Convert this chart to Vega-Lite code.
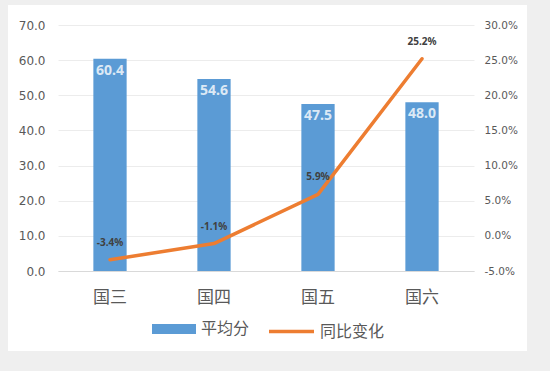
{
  "$schema": "https://vega.github.io/schema/vega-lite/v6.json",
  "autosize": "none",
  "width": 519,
  "height": 346,
  "padding": {"left": 8, "top": 5, "right": 23, "bottom": 20},
  "background": "#efefef",
  "config": {
    "view": {"fill": "#ffffff", "stroke": null},
    "font": "Noto Sans CJK SC",
    "locale": {
      "number": {"decimal": ".", "thousands": ",", "grouping": [3], "currency": ["$", ""], "minus": "-"}
    }
  },
  "data": {
    "values": [
      {"cat": "国三", "score": 60.4, "yoy": -0.034},
      {"cat": "国四", "score": 54.6, "yoy": -0.011},
      {"cat": "国五", "score": 47.5, "yoy": 0.059},
      {"cat": "国六", "score": 48.0, "yoy": 0.252}
    ]
  },
  "encoding": {
    "x": {
      "field": "cat",
      "type": "nominal",
      "sort": null,
      "scale": {"range": [50, 466], "paddingInner": 0.68, "paddingOuter": 0.34},
      "axis": {
        "title": null,
        "orient": "bottom",
        "offset": -80,
        "labelAngle": 0,
        "labelPadding": 18,
        "labelDx": -28,
        "labelFontSize": 17,
        "labelColor": "#595959",
        "labelFont": "Noto Sans CJK SC",
        "ticks": false,
        "domainColor": "#d9d9d9",
        "domainWidth": 1,
        "grid": false
      }
    }
  },
  "layer": [
    {
      "layer": [
        {
          "mark": {"type": "bar"},
          "encoding": {
            "y": {
              "field": "score",
              "type": "quantitative",
              "scale": {"domain": [0, 70], "range": [266, 20], "nice": false, "zero": true},
              "axis": {
                "title": null,
                "orient": "left",
                "offset": -50,
                "values": [0, 10, 20, 30, 40, 50, 60, 70],
                "format": ".1f",
                "labelPadding": 13,
                "labelFont": "DejaVu Sans",
                "labelFontSize": 12,
                "labelColor": "#595959",
                "ticks": false,
                "domain": false,
                "grid": true,
                "gridColor": "#ececec",
                "gridWidth": 1
              }
            },
            "fill": {
              "datum": "平均分",
              "type": "nominal",
              "scale": {"range": ["#5b9bd5"]},
              "legend": {
                "title": null,
                "orient": "none",
                "legendX": 144,
                "legendY": 302,
                "symbolType": "M-1,-0.23H1V0.23H-1Z",
                "symbolSize": 1936,
                "symbolOpacity": 1,
                "symbolStrokeWidth": 0,
                "labelFontSize": 16,
                "labelColor": "#595959",
                "labelFont": "Noto Sans CJK SC",
                "labelOffset": 5
              }
            }
          }
        },
        {
          "mark": {"type": "text", "baseline": "top", "dy": 5, "font": "Noto Sans", "fontSize": 14, "fontWeight": "bold", "color": "#dce9f5"},
          "encoding": {
            "y": {"field": "score", "type": "quantitative", "scale": {"domain": [0, 70], "range": [266, 20]}},
            "text": {"field": "score", "type": "quantitative", "format": ".1f"}
          }
        }
      ]
    },
    {
      "layer": [
        {
          "mark": {"type": "line", "strokeWidth": 3.5, "strokeCap": "round", "strokeJoin": "round"},
          "encoding": {
            "y": {
              "field": "yoy",
              "type": "quantitative",
              "scale": {"domain": [-0.05, 0.30], "range": [266, 20], "nice": false, "zero": false},
              "axis": {
                "title": null,
                "orient": "right",
                "offset": -53,
                "values": [-0.05, 0, 0.05, 0.1, 0.15, 0.2, 0.25, 0.3],
                "format": ".1%",
                "labelPadding": 10,
                "labelFont": "DejaVu Sans",
                "labelFontSize": 10.5,
                "labelColor": "#595959",
                "ticks": false,
                "domain": false,
                "grid": false
              }
            },
            "stroke": {
              "datum": "同比变化",
              "type": "nominal",
              "scale": {"range": ["#ed7d31"]},
              "legend": {
                "title": null,
                "orient": "none",
                "legendX": 259,
                "legendY": 302,
                "symbolType": "stroke",
                "symbolSize": 2025,
                "symbolStrokeWidth": 3.5,
                "labelFontSize": 16,
                "labelColor": "#595959",
                "labelFont": "Noto Sans CJK SC",
                "labelOffset": 4
              }
            }
          }
        },
        {
          "mark": {"type": "text", "baseline": "middle", "dy": -17, "font": "Noto Sans", "fontSize": 10, "fontWeight": "bold", "color": "#404040"},
          "encoding": {
            "y": {"field": "yoy", "type": "quantitative", "scale": {"domain": [-0.05, 0.30], "range": [266, 20]}},
            "text": {"field": "yoy", "type": "quantitative", "format": ".1%"}
          }
        }
      ]
    }
  ],
  "resolve": {"scale": {"y": "independent"}}
}
